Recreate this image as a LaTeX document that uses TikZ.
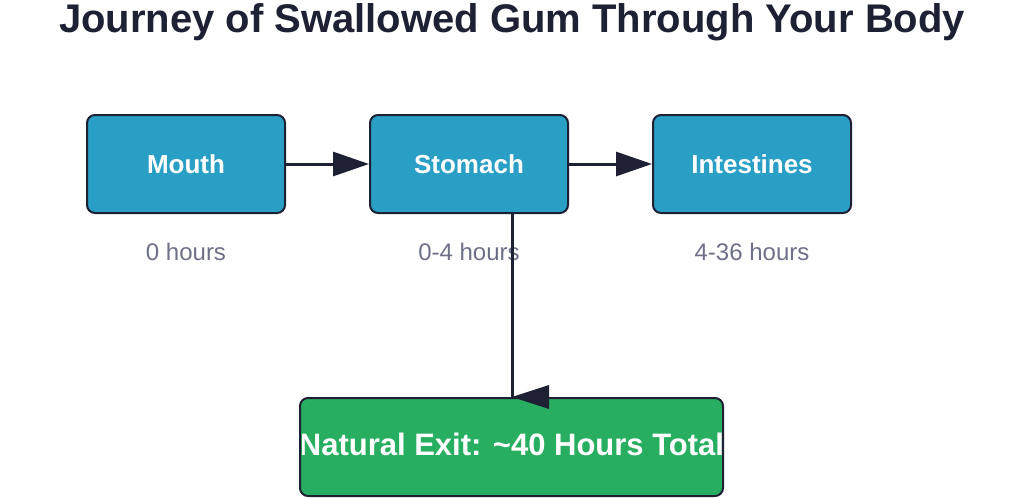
\documentclass[tikz,border=0pt]{standalone}
\usepackage{fontspec}
\setmainfont{Liberation Sans}
\usetikzlibrary{arrows.meta}
\definecolor{bx}{HTML}{2A9FC6}
\definecolor{gr}{HTML}{27AE60}
\definecolor{dk}{HTML}{1E2133}
\definecolor{gy}{HTML}{6E7088}
\begin{document}
\begin{tikzpicture}[x=1pt,y=-1pt,
 box/.style={draw=dk,line width=2pt,rounded corners=8pt,fill=bx,minimum width=198pt,minimum height=98pt,text=white,font=\bfseries\fontsize{26}{30}\selectfont},
 sub/.style={text=gy,font=\fontsize{24}{28}\selectfont},
 arr/.style={draw=dk,line width=3pt,-{Triangle[length=36pt,width=24pt]}}]
\useasboundingbox (0,0) rectangle (1024,498);
\node[font=\bfseries\fontsize{40}{44}\selectfont,text=dk] (title) at (512,22) {Journey of Swallowed Gum Through Your Body};
\node[box] (m) at (186,164) {Mouth};
\node[box] (s) at (469,164) {Stomach};
\node[box] (i) at (752,164) {Intestines};
\node[sub] (t1) at (186,252) {0 hours};
\node[sub] (t2) at (469,252) {0-4 hours};
\node[sub] (t3) at (752,252) {4-36 hours};
\node[draw=dk,line width=2pt,rounded corners=8pt,fill=gr,minimum width=423pt,minimum height=98pt] (e) at (511.5,447) {};
\begin{scope}
\clip (302,399) rectangle (721,494);
\node[text=white,font=\bfseries\fontsize{31}{36}\selectfont] (et) at (511.5,444) {Natural Exit: \textasciitilde40 Hours Total};
\end{scope}
\draw[arr] (m.east) -- (s.west);
\draw[arr] (s.east) -- (i.west);
\coordinate (c) at (512,397);
\draw[draw=dk,line width=3pt] (512,213) -- (c);
\fill[dk] (c) -- (549,385) -- (549,409) -- cycle;
\end{tikzpicture}
\end{document}
